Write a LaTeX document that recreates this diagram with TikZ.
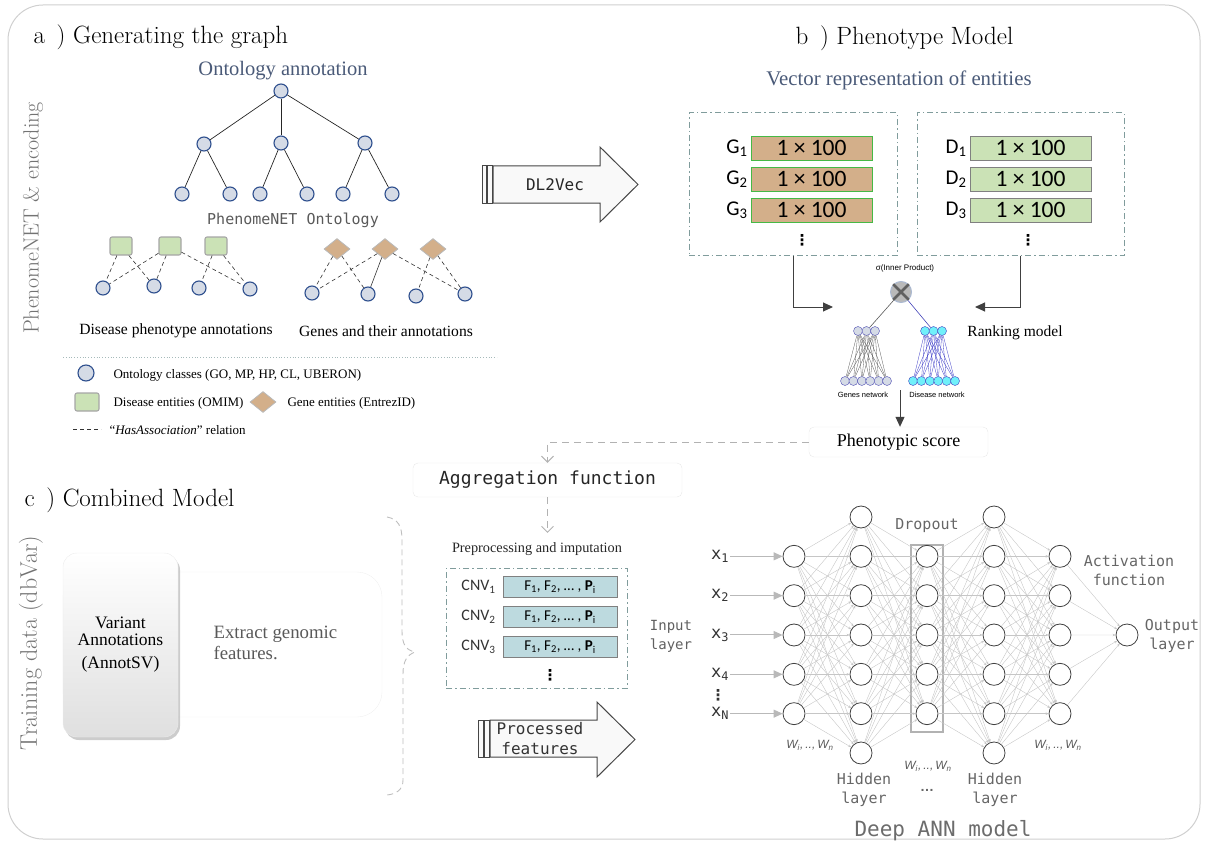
\documentclass[tikz,border=0pt]{standalone}
\usepackage{fontspec}
\usepackage{amsmath}
\usetikzlibrary{shapes.geometric,arrows.meta,positioning,shadows,calc}
\newfontfamily\tms{Liberation Serif}
\newfontfamily\mono{DejaVu Sans Mono}
\newfontfamily\calfont{Carlito}
\newfontfamily\ari{Liberation Sans}
\newfontfamily\djv{DejaVu Sans}
\newcommand{\fsz}[2]{\fontsize{#1}{#2}\selectfont}
\definecolor{ontofill}{HTML}{D5DBE6}
\definecolor{ontoedge}{HTML}{2E4F8E}
\definecolor{disfill}{HTML}{CBE2B6}
\definecolor{genefill}{HTML}{D3AF8A}
\definecolor{cnvfill}{HTML}{BDDADF}
\definecolor{boxline}{HTML}{809C9C}
\definecolor{titleblue}{HTML}{4A5A78}
\definecolor{framegray}{HTML}{D0D0D0}
\definecolor{cyannode}{HTML}{70F0FA}

\tikzset{
  onto/.style={circle, fill=ontofill, draw=ontoedge, line width=1.1pt, minimum size=14pt, inner sep=0pt},
  disent/.style={rectangle, rounded corners=2pt, fill=disfill, draw=gray!70, line width=1.1pt, minimum width=22pt, minimum height=18pt, inner sep=0pt},
  geneent/.style={diamond, fill=genefill, draw=gray!55, line width=0.8pt, minimum width=26pt, minimum height=21pt, inner sep=0pt},
  assoc/.style={black!80, line width=0.6pt, dash pattern=on 4pt off 3pt},
  dashdot/.style={draw=boxline, line width=1pt, dash pattern=on 6pt off 3pt on 1.5pt off 3pt, inner sep=0pt},
  vbar/.style={minimum width=121pt, minimum height=24pt, inner sep=0pt, font=\calfont\fsz{23.5}{24}},
  gbar/.style={vbar, fill=genefill, draw=green!45!gray},
  dbar/.style={vbar, fill=disfill, draw=gray},
  cbar/.style={minimum width=114pt, minimum height=21pt, inner sep=0pt, fill=cnvfill, draw=gray, font=\calfont\fsz{15}{17}},
  gnode/.style={circle, fill=ontofill, draw=gray!60!blue, line width=0.4pt, minimum size=9pt, inner sep=0pt},
  dnode/.style={circle, fill=cyannode, draw=blue!50!gray, line width=0.4pt, minimum size=9pt, inner sep=0pt},
  feed/.style={gray!50!black, line width=1pt, -{Triangle[length=10pt,width=9pt]}},
  dashflow/.style={gray!60, line width=1pt, dash pattern=on 7pt off 5pt, -{Straight Barb[length=6pt,width=12pt]}},
  neuron/.style={circle, draw=black!75, line width=0.8pt, minimum size=22pt, inner sep=0pt, fill=white},
  syn/.style={gray!45, line width=0.4pt, -{Stealth[length=3pt,width=2.5pt]}},
  inarrow/.style={gray!55, line width=1pt, -{Triangle[length=9pt,width=8pt]}},
  fatarrow/.style={fill=gray!5, draw=gray!55!black, line width=1pt},
  annlbl/.style={font=\mono\fsz{15}{19}, text=gray!80!black, align=center},
  wlbl/.style={font=\ari\itshape\fsz{12}{14}, text=gray!70!black},
  sidelbl/.style={rotate=90, font=\fsz{22}{24}, text=black!55},
  paneltitle/.style={anchor=west, font=\fsz{25}{28}},
  vdot/.style={font=\djv\bfseries\fsz{15}{15}, inner sep=0pt},
  lgtxt/.style={anchor=west, font=\tms\fsz{13}{15}},
}

\begin{document}
\begin{tikzpicture}[x=1pt, y=-1pt]
  \useasboundingbox (0,0) rectangle (1206,845);
  % Frame
  \draw[framegray, line width=1pt, rounded corners=35pt] (8,5) rectangle (1200,839);

  % Panel titles and side labels
  \node[paneltitle] (ttla) at (30,37) {a \,) Generating the graph};
  \node[paneltitle] (ttlb) at (792,38) {b \,) Phenotype Model};
  \node[paneltitle] (ttlc) at (21,500) {c \,) Combined Model};
  \node[sidelbl] (side1) at (33,218) {PhenomeNET \& encoding};
  \node[sidelbl, font=\fsz{24}{26}] (side2) at (31,643) {Training data (dbVar)};

  % Ontology tree
  \node[font=\tms\fsz{20.5}{22}, text=titleblue] (ontotitle) at (283,71) {Ontology annotation};
  \node[onto] (t0) at (281,91) {};
  \node[onto] (tm1) at (204,144) {};
  \node[onto] (tm2) at (281,143) {};
  \node[onto] (tm3) at (365,143) {};
  \foreach \n/\x in {1/182,2/230,3/260,4/307,5/343,6/392}
    \node[onto] (tb\n) at (\x,194) {};
  \foreach \m in {1,2,3}
    \draw[black!85, line width=0.7pt] (t0) -- (tm\m);
  \foreach \m/\a/\b in {1/1/2,2/3/4,3/5/6} {
    \draw[black!85, line width=0.7pt] (tm\m) -- (tb\a);
    \draw[black!85, line width=0.7pt] (tm\m) -- (tb\b);
  }
  \node[font=\mono\fsz{15}{18}, text=gray!70!black] (ontoname) at (293,220) {PhenomeNET Ontology};

  % Disease phenotype annotations
  \foreach \n/\x in {1/121,2/170,3/216}
    \node[disent] (ds\n) at (\x,246) {};
  \foreach \n/\x/\y in {1/103/288,2/154/286,3/199/288,4/250/289}
    \node[onto] (dc\n) at (\x,\y) {};
  \foreach \s/\c in {1/1,1/2,2/1,2/2,2/4,3/3,3/4}
    \draw[assoc] (ds\s) -- (dc\c);
  \node[font=\tms\fsz{15.6}{18}] (dislbl) at (176,331) {Disease phenotype annotations};

  % Genes and their annotations
  \foreach \n/\x in {1/337,2/385,3/433}
    \node[geneent] (gd\n) at (\x,249) {};
  \foreach \n/\x/\y in {1/312/293,2/368/294,3/416/296,4/465/294}
    \node[onto] (gc\n) at (\x,\y) {};
  \foreach \s/\c in {1/1,1/2,2/1,2/4,3/3,3/4}
    \draw[assoc] (gd\s) -- (gc\c);
  \draw[black!80, line width=0.6pt] (gd2) -- (gc2);
  \node[font=\tms\fsz{15.6}{18}] (genelbl) at (386,331) {Genes and their annotations};

  % Legend
  \draw[boxline!70, line width=0.8pt, dotted] (63,357) -- (497,357);
  \node[onto, minimum size=16pt] (lgonto) at (86,373) {};
  \node[lgtxt] (lgontotxt) at (110,375) {Ontology classes (GO, MP, HP, CL, UBERON)};
  \node[disent, minimum width=24pt] (lgdis) at (87,402) {};
  \node[lgtxt] (lgdistxt) at (110,403) {Disease entities (OMIM)};
  \node[geneent] (lggene) at (263,402) {};
  \node[lgtxt] (lggenetxt) at (284,403) {Gene entities (EntrezID)};
  \coordinate (lgdashA) at (73,429);
  \coordinate (lgdashB) at (101,429);
  \draw[assoc] (lgdashA) -- (lgdashB);
  \node[lgtxt] (lgassoc) at (106,430) {“\textit{HasAssociation}” relation};

  % DL2Vec arrow
  \draw[fatarrow] (493,166) -- (600,166) -- (600,147) -- (638,184.5) -- (600,222) -- (600,203) -- (493,203) -- cycle;
  \draw[fatarrow] (482,166) rectangle (486.5,203);
  \draw[fatarrow] (487.5,166) rectangle (492,203);
  \node[font=\mono\fsz{16}{19}, text=black!85] (dlvec) at (555,185) {DL2Vec};

  % Vector representation of entities
  \node[font=\tms\fsz{20.8}{22}, text=titleblue] (vectitle) at (899,80) {Vector representation of entities};
  \node[dashdot, minimum width=208pt, minimum height=142pt] (vecg) at (793,184) {};
  \node[dashdot, minimum width=207pt, minimum height=142pt] (vecd) at (1020.5,184) {};
  \foreach \i/\y in {1/148,2/179,3/210} {
    \node[gbar] (g\i) at (811.5,\y) {1 × 100};
    \node[left=2pt of g\i, inner sep=1pt, font=\calfont\fsz{21}{22}] (gl\i) {G\textsubscript{\i}};
    \node[dbar] (d\i) at (1030.5,\y) {1 × 100};
    \node[left=2pt of d\i, inner sep=1pt, font=\calfont\fsz{21}{22}] (dl\i) {D\textsubscript{\i}};
  }
  \node[vdot] (gdots) at (802,240) {⋮};
  \node[vdot] (ddots) at (1028,240) {⋮};

  % Ranking model
  \node[font=\ari\fsz{8}{9}] (sigma) at (905,268) {σ(Inner Product)};
  \node[circle, fill=gray!55, draw=ontoedge!40, line width=1pt, minimum size=21pt, inner sep=0pt] (prod) at (901,292) {};
  \draw[gray!75!black, line width=2.6pt] (prod.45) -- (prod.225);
  \draw[gray!75!black, line width=2.6pt] (prod.135) -- (prod.315);
  \foreach \k/\x in {1/858,2/866.5,3/875}
    \node[gnode] (gt\k) at (\x,331) {};
  \foreach \k in {1,...,6}
    \node[gnode] (gb\k) at (845+8.4*\k-8.4,381) {};
  \foreach \k/\x in {1/925,2/933.5,3/942}
    \node[dnode] (dt\k) at (\x,331) {};
  \foreach \k in {1,...,6}
    \node[dnode] (db\k) at (913+8.4*\k-8.4,381) {};
  \foreach \t in {1,2,3}
    \foreach \b in {1,...,6} {
      \draw[gray!70!black, line width=0.3pt] (gt\t) -- (gb\b);
      \draw[blue!55!gray, line width=0.3pt] (dt\t) -- (db\b);
    }
  \draw[gray!70!black, line width=0.6pt] (prod) -- (gt2);
  \draw[blue!45!gray, line width=0.6pt] (prod) -- (dt2);
  \node[font=\ari\fsz{7.5}{9}] (gnet) at (863,395) {Genes network};
  \node[font=\ari\fsz{7.5}{9}] (dnet) at (937,395) {Disease network};
  \node[font=\tms\fsz{15.5}{18}] (rank) at (1015,333) {Ranking model};
  \coordinate (gin) at (833,307);
  \coordinate (din) at (975,307);
  \draw[feed] (vecg.south) |- (gin);
  \draw[feed] (vecd.south) |- (din);

  % Phenotypic score and aggregation
  \node[draw=gray!18, rounded corners=5pt, minimum width=179pt, minimum height=30pt, font=\tms\fsz{18}{20}] (pscore) at (898.5,442) {Phenotypic score};
  \coordinate (netout) at (900,390);
  \draw[feed] (netout) -- (netout |- pscore.north);
  \node[draw=gray!18, rounded corners=5pt, minimum width=269pt, minimum height=34pt, font=\mono\fsz{18}{20}, text=black!85] (aggr) at (547.5,480) {Aggregation function};
  \draw[dashflow] (pscore.west) -| (aggr.north);
  \node[font=\tms\fsz{14.3}{16}, text=black!85] (prep) at (537,549) {Preprocessing and imputation};
  \draw[dashflow] (aggr.south) -- ([yshift=6pt]aggr.south |- prep.north);

  % Feature matrix
  \node[dashdot, minimum width=181pt, minimum height=120pt] (cnvbox) at (536.5,628) {};
  \foreach \i/\y in {1/587,2/617,3/647} {
    \node[cbar] (cnv\i) at (560,\y) {F\textsubscript{1}, F\textsubscript{2}, … , \textbf{P}\textsubscript{i}};
    \node[left=6pt of cnv\i, inner sep=1pt, font=\calfont\fsz{16}{18}, text=black!80] (cnvl\i) {CNV\textsubscript{\i}};
  }
  \node[vdot] (cnvdots) at (550,675) {⋮};
  \node[font=\mono\fsz{14}{19}, text=gray!75!black, align=left] (inlay) at (671,636) {Input\\layer};

  % Processed features arrow
  \draw[fatarrow] (490,720) -- (597,720) -- (597,702) -- (635,739.5) -- (597,777) -- (597,757) -- (490,757) -- cycle;
  \draw[fatarrow] (478,720) rectangle (483,757);
  \draw[fatarrow] (484.5,720) rectangle (489,757);
  \node[font=\mono\fsz{16}{20}, text=black!80, align=center] (procf) at (540,739) {Processed\\features};

  % Variant annotations
  \node[draw=gray!12, rounded corners=25pt, minimum width=319pt, minimum height=145pt] (extr) at (222.5,644.5) {};
  \node[anchor=west, align=left, font=\tms\fsz{18.8}{21}, text=gray!70!black] (extxt) at (210,643) {Extract genomic\\features.};
  \node[rounded corners=14pt, top color=white, bottom color=gray!25, draw=gray!15,
        drop shadow={opacity=0.4, shadow xshift=2pt, shadow yshift=-3pt},
        minimum width=115pt, minimum height=184pt, align=center, font=\tms\fsz{17.5}{17}] (varann) at (120.5,645) {Variant\\Annotations\\[6pt](AnnotSV)};
  % Brace
  \draw[gray!50, line width=0.9pt, dash pattern=on 6pt off 4pt]
    (387,517) .. controls (398,519) and (402,526) .. (402,540) -- (402,630)
    .. controls (402,645) and (406,650) .. (415,652)
    .. controls (407,655) and (403,661) .. (403,674) -- (403,780)
    .. controls (403,790) and (396,794) .. (387,795);

  % Deep ANN
  \node[draw=gray!60, line width=1.6pt, minimum width=32pt, minimum height=187pt] (drop) at (927,638.5) {};
  \foreach \i in {1,...,5} {
    \node[neuron] (in\i) at (794,517+39.33*\i) {};
    \node[neuron] (dr\i) at (927,517+39.33*\i) {};
    \node[neuron] (act\i) at (1060,517+39.33*\i) {};
  }
  \foreach \j in {0,...,6} {
    \node[neuron] (hA\j) at (861,517+39.33*\j) {};
    \node[neuron] (hB\j) at (994,517+39.33*\j) {};
  }
  \node[neuron] (outn) at (1127,635) {};
  \foreach \i in {1,...,5}
    \foreach \j in {0,...,6} {
      \draw[syn] (in\i) -- (hA\j);
      \draw[syn] (hA\j) -- (dr\i);
      \draw[syn] (dr\i) -- (hB\j);
      \draw[syn] (hB\j) -- (act\i);
    }
  \foreach \i in {1,...,5}
    \draw[syn] (act\i) -- (outn);
  % Inputs
  \foreach \i/\t in {1/1,2/2,3/3,4/4,5/N} {
    \node[font=\mono\fsz{17}{20}, text=black!80, inner sep=1pt] (x\i) at (720,517+39.33*\i) {x\textsubscript{\t}};
    \draw[inarrow] (x\i) -- (in\i);
  }
  \node[vdot, text=black!80] (xdots) at (718,695) {⋮};
  % Layer labels
  \node[annlbl] (droplbl) at (927,526) {Dropout};
  \node[annlbl] (actlbl) at (1129,570) {Activation\\function};
  \node[annlbl] (outlbl) at (1172,636) {Output\\layer};
  \node[annlbl] (hidA) at (864,790) {Hidden\\layer};
  \node[annlbl] (hidB) at (995,790) {Hidden\\layer};
  \node[font=\ari\bfseries\fsz{14}{16}, text=gray!80!black] (hdots) at (927,790) {…};
  \node[wlbl] (wA) at (810,745) {W\textsubscript{i},\,..,\,W\textsubscript{n}};
  \node[wlbl] (wB) at (928,766) {W\textsubscript{i},\,..,\,W\textsubscript{n}};
  \node[wlbl] (wC) at (1058,745) {W\textsubscript{i},\,..,\,W\textsubscript{n}};
  \node[font=\mono\fsz{21}{24}, text=gray!85!black] (annttl) at (943,831) {Deep ANN model};
\end{tikzpicture}
\end{document}
